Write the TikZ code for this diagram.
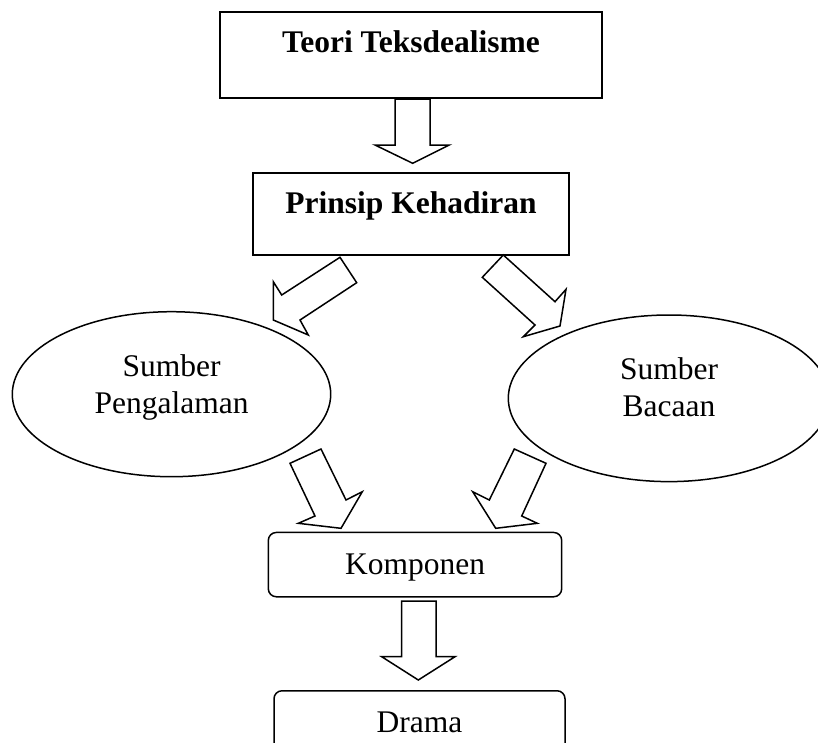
\documentclass[tikz,border=0pt]{standalone}
\usepackage{fontspec}
\setmainfont{Liberation Serif}
\usetikzlibrary{shapes.geometric}
\tikzset{
  lw/.style={line width=1.5pt},
  sqbox/.style={lw, draw, rectangle, inner xsep=0pt, inner ysep=0pt, anchor=north,
    font=\fontsize{31.5}{37}\selectfont\bfseries},
  rbox/.style={lw, draw, rectangle, rounded corners=8pt, inner xsep=0pt, inner ysep=0pt, anchor=north,
    font=\fontsize{31.5}{37}\selectfont},
  oval/.style={lw, draw, ellipse, inner sep=0pt, align=center,
    text depth=7pt,
    font=\fontsize{31.5}{37}\selectfont},
  blockarrow/.style={lw, draw, fill=white, line join=miter}
}
\begin{document}
\begin{tikzpicture}[x=1pt, y=-1pt]
\useasboundingbox (0,0) rectangle (818,742);
\clip (0,0) rectangle (818,742);
\fill[white] (0,0) rectangle (818,742);

% boxes
\node[sqbox, minimum width=382pt, text height=40.7pt, text depth=45.3pt] (teori) at (411,11) {Teori Teksdealisme};
\node[sqbox, minimum width=316pt, text height=40.7pt, text depth=41.3pt] (prinsip) at (411,172) {Prinsip Kehadiran};
\node[oval, minimum width=318.4pt, minimum height=165pt, text height=45.2pt] (peng) at (171.5,394.2) {Sumber\\Pengalaman};
\node[oval, minimum width=321.4pt, minimum height=166.6pt, text height=43.8pt] (bacaan) at (669,398.3) {Sumber\\Bacaan};
\node[rbox, minimum width=293.4pt, text height=42.3pt, text depth=22pt] (komp) at (415,531.7) {Komponen};
\node[rbox, minimum width=291pt, text height=41.7pt, text depth=20pt] (drama) at (419.5,690) {Drama};

% block arrows
\draw[blockarrow] (395,99) -- (430,99) -- (430,145) -- (449.3,145) -- (412.7,163.3)
  -- (375,145) -- (395,145) -- cycle;
\draw[blockarrow] (340,257.3) -- (356.7,282.7) -- (300,320) -- (308.3,335) -- (273.3,320)
  -- (273.3,281.7) -- (281.7,295) -- cycle;
\draw[blockarrow] (503.3,255) -- (555,301.7) -- (566,289.3) -- (560,326) -- (523.3,336.7)
  -- (535,325) -- (482.3,277.3) -- cycle;
\draw[blockarrow] (290,463.3) -- (321,449) -- (346,500) -- (362.3,491.7) -- (341,528.3)
  -- (298.3,523.3) -- (315,516) -- cycle;
\draw[blockarrow] (514.3,449) -- (546,463.3) -- (521.7,516) -- (537.3,523.3) -- (495.7,528.3)
  -- (472.7,491.7) -- (489.3,500) -- cycle;
\draw[blockarrow] (401.7,601) -- (436,601) -- (436,656.7) -- (455,656.7) -- (418.3,680)
  -- (381.7,656.7) -- (401.7,656.7) -- cycle;
\end{tikzpicture}
\end{document}
